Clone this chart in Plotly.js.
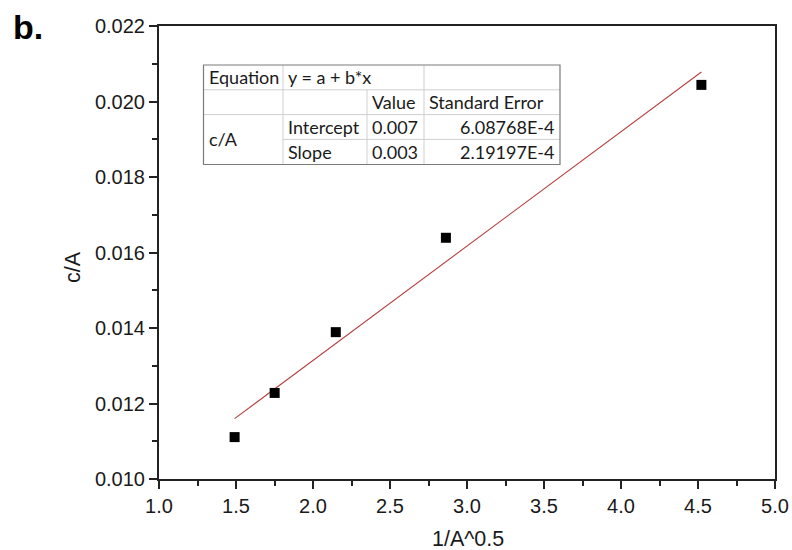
<!DOCTYPE html>
<html>
<head>
<meta charset="utf-8">
<script src="https://cdn.plot.ly/plotly-3.0.1.min.js"></script>
<style>html,body{margin:0;padding:0;background:#fff;}#chart{width:792px;height:550px;}</style>
</head>
<body>
<div id="chart"></div>
<script>
// ---- data ----
var xData = [1.491, 1.751, 2.148, 2.863, 4.522];
var yData = [0.01111, 0.01228, 0.01389, 0.01639, 0.02044];
var fitX = [1.491, 4.522];
var fitY = [0.01160, 0.02078];
var xTickVals = [1.0, 1.5, 2.0, 2.5, 3.0, 3.5, 4.0, 4.5, 5.0];
var xTickText = ["1.0", "1.5", "2.0", "2.5", "3.0", "3.5", "4.0", "4.5", "5.0"];
var yTickVals = [0.010, 0.012, 0.014, 0.016, 0.018, 0.020, 0.022];
var yTickText = ["0.010", "0.012", "0.014", "0.016", "0.018", "0.020", "0.022"];
var tableRows = [
  ["Equation", "y = a + b*x", "", ""],
  ["", "", "Value", "Standard Error"],
  ["c/A", "Intercept", "0.007", "6.08768E-4"],
  ["", "Slope", "0.003", "2.19197E-4"]
];

// ---- layout geometry (pixels) ----
var W = 792, H = 550;
var M = {l: 159, r: 17, t: 26, b: 71};
var PW = W - M.l - M.r, PH = H - M.t - M.b;
function px(x) { return (x - M.l) / PW; }
function py(y) { return (H - M.b - y) / PH; }

var tblL = 203.5, tblR = 560, tblT = 65, tblB = 164.5;
var colX = [203.5, 283, 367, 424, 560];
var rowY = [65, 89.8, 114.6, 139.4, 164.5];

var shapes = [];
// white background of table
shapes.push({type: 'rect', xref: 'paper', yref: 'paper',
  x0: px(tblL), y0: py(tblB), x1: px(tblR), y1: py(tblT),
  line: {width: 0}, fillcolor: '#ffffff'});
function line(x0, y0, x1, y1, color, w) {
  shapes.push({type: 'line', xref: 'paper', yref: 'paper',
    x0: px(x0), y0: py(y0), x1: px(x1), y1: py(y1),
    line: {color: color, width: w}});
}
var inner = '#cfcfcf';
// inner horizontal lines
line(tblL, rowY[1], tblR, rowY[1], inner, 1);
line(tblL, rowY[2], tblR, rowY[2], inner, 1);
line(colX[1], rowY[3], tblR, rowY[3], inner, 1);
// inner vertical lines
line(colX[1], tblT, colX[1], tblB, inner, 1);
line(colX[2], rowY[1], colX[2], tblB, inner, 1);
line(colX[3], tblT, colX[3], tblB, inner, 1);
// outer border
shapes.push({type: 'rect', xref: 'paper', yref: 'paper',
  x0: px(tblL), y0: py(tblB), x1: px(tblR), y1: py(tblT),
  line: {color: '#7a7a7a', width: 1.2}, fillcolor: 'rgba(0,0,0,0)'});

var tfont = {family: 'Lato, "Noto Sans", sans-serif', size: 18, color: '#1a1a1a'};
var annotations = [];
function txt(s, x, y, anchor) {
  if (!s) return;
  annotations.push({text: s, xref: 'paper', yref: 'paper', x: px(x), y: py(y),
    xanchor: anchor, yanchor: 'middle', showarrow: false, font: tfont});
}
function rowMid(i) { return (rowY[i] + rowY[i + 1]) / 2; }
txt(tableRows[0][0], colX[0] + 3, rowMid(0), 'left');
txt(tableRows[0][1], colX[1] + 3, rowMid(0), 'left');
txt(tableRows[1][2], colX[2] + 3, rowMid(1), 'left');
txt(tableRows[1][3], colX[3] + 3, rowMid(1), 'left');
txt(tableRows[2][0], colX[0] + 3, rowY[3], 'left');
txt(tableRows[2][1], colX[1] + 3, rowMid(2), 'left');
txt(tableRows[2][2], colX[2] + 3, rowMid(2), 'left');
txt(tableRows[2][3], colX[4] - 4, rowMid(2), 'right');
txt(tableRows[3][1], colX[1] + 3, rowMid(3), 'left');
txt(tableRows[3][2], colX[2] + 3, rowMid(3), 'left');
txt(tableRows[3][3], colX[4] - 4, rowMid(3), 'right');

var afont = {family: 'Arial, "Liberation Sans", sans-serif', size: 21.5, color: '#1a1a1a'};
annotations.push({text: 'c/A', xref: 'paper', yref: 'paper', x: px(73), y: py(267),
  xanchor: 'center', yanchor: 'middle', textangle: -90, showarrow: false, font: afont});
annotations.push({text: '1/A^0.5', xref: 'paper', yref: 'paper', x: px(468), y: py(539),
  xanchor: 'center', yanchor: 'middle', showarrow: false, font: afont});
annotations.push({text: '<b>b.</b>', xref: 'paper', yref: 'paper', x: px(11), y: py(27),
  xanchor: 'left', yanchor: 'middle', showarrow: false,
  font: {family: 'Arial, "Liberation Sans", sans-serif', size: 34, color: '#000'}});

var traces = [
  {x: fitX, y: fitY, type: 'scatter', mode: 'lines',
   line: {color: '#b5403f', width: 1.1}, hoverinfo: 'skip'},
  {x: xData, y: yData, type: 'scatter', mode: 'markers',
   marker: {symbol: 'square', size: 10, color: '#000', line: {width: 0}}}
];

var tickfont = {family: 'Arial, "Liberation Sans", sans-serif', size: 20, color: '#1a1a1a'};
var layout = {
  width: W, height: H,
  margin: M,
  paper_bgcolor: '#fff', plot_bgcolor: '#fff',
  showlegend: false,
  xaxis: {
    range: [1.0, 5.0], showgrid: false, zeroline: false,
    showline: true, linecolor: '#222', linewidth: 2, mirror: true,
    ticks: 'outside', ticklen: 8, tickwidth: 2, tickcolor: '#222',
    tickmode: 'array', tickvals: xTickVals, ticktext: xTickText,
    tickfont: tickfont,
    minor: {ticks: 'outside', ticklen: 5, tickwidth: 2, tickcolor: '#222', dtick: 0.25, showgrid: false}
  },
  yaxis: {
    range: [0.010, 0.022], showgrid: false, zeroline: false,
    showline: true, linecolor: '#222', linewidth: 2, mirror: true,
    ticks: 'outside', ticklen: 8, tickwidth: 2, tickcolor: '#222',
    tickmode: 'array', tickvals: yTickVals, ticktext: yTickText,
    tickfont: tickfont,
    minor: {ticks: 'outside', ticklen: 5, tickwidth: 2, tickcolor: '#222', dtick: 0.001, showgrid: false}
  },
  shapes: shapes,
  annotations: annotations
};

Plotly.newPlot('chart', traces, layout, {staticPlot: true, displayModeBar: false});
</script>
</body>
</html>
